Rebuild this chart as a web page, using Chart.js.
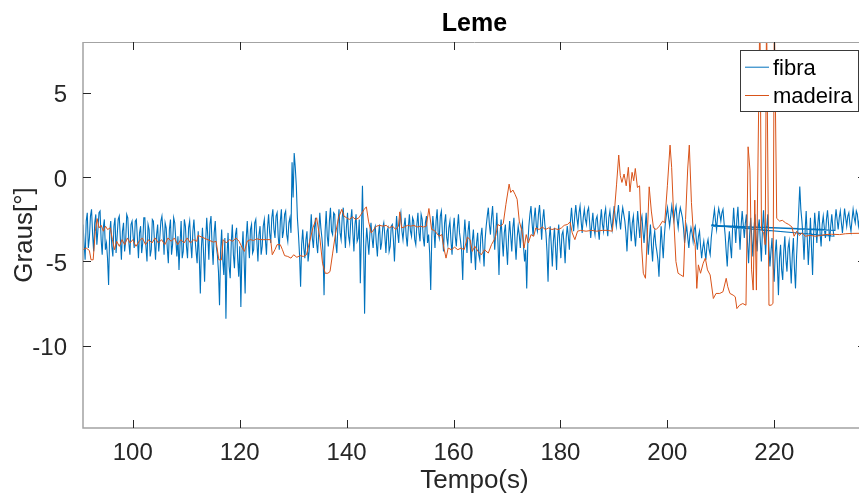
<!DOCTYPE html>
<html><head><meta charset="utf-8">
<script src="https://cdn.jsdelivr.net/npm/chart.js@4.4.1/dist/chart.umd.min.js"></script>
<style>
html,body{margin:0;padding:0;background:#fff;overflow:hidden;width:859px;height:497px}
#wrap{position:absolute;left:0;top:0;width:868px;height:497px}
</style>
</head><body><div id="wrap"><canvas id="c" width="868" height="497"></canvas></div>
<script>
// ---------------- data ----------------
const chartTitle = 'Leme';
const xTitle = 'Tempo(s)';
const yTitle = 'Graus[°]';
const seriesNames = ['fibra', 'madeira'];
const xTickValues = [100, 120, 140, 160, 180, 200, 220];
const yTickValues = [-10, -5, 0, 5];

// fibra: regularly sampled (start time, sample interval)
const fibraStart = 90.7;
const fibraStep = 0.1995;
const fibraValues = [
  -2.8,-3.9,-4.9,-2.6,-2.1,-4.2,-3.6,-2.3,-1.9,-3.4,-4.4,-2.7,-2.2,-4.0,-3.1,-2.1,-2.0,-3.7,-4.6,-3.0,-2.5,-4.3,-3.9,-4.8,-6.4,-3.3,-2.6,-4.1,-4.7,-2.9,-2.4,-4.5,-3.5,-2.5,-2.3,-3.6,-4.9,-3.2,-2.7,-4.4,-3.8,-2.2,-2.4,-3.9,-4.6,-2.8,-2.6,-3.5,-4.2,-2.6,
  -2.5,-3.6,-4.8,-3.3,-2.9,-4.5,-3.9,-2.4,-2.4,-4.1,-5.0,-2.8,-3.1,-4.7,-4.3,-2.5,-2.6,-3.8,-4.9,-3.4,-2.8,-4.4,-3.6,-2.6,-2.3,-3.2,-4.6,-2.7,-3.0,-4.2,-5.1,-3.1,-2.5,-4.6,-4.0,-2.4,-2.7,-3.7,-4.7,-3.5,-5.5,-3.9,-2.6,-4.8,-4.4,-2.5,-2.9,-4.1,-4.8,-3.0,
  -2.6,-3.9,-4.8,-3.2,-2.5,-3.6,-4.4,-5.1,-3.2,-4.7,-6.9,-4.2,-3.0,-4.5,-6.2,-3.8,-2.4,-3.5,-4.9,-2.8,-2.3,-4.0,-5.2,-3.3,-2.6,-4.1,-4.6,-5.6,-7.6,-4.4,-3.1,-4.9,-5.8,-3.6,-8.4,-4.7,-3.3,-5.3,-6.0,-3.9,-2.8,-4.6,-5.4,-3.4,-3.0,-4.8,-5.9,-4.1,-7.7,-4.5,
  -3.2,-4.8,-6.9,-3.7,-2.6,-3.9,-4.8,-3.1,-2.8,-4.5,-4.3,-2.7,-2.5,-3.8,-5.0,-3.4,-2.9,-4.6,-4.1,-2.9,-2.5,-3.7,-4.6,-3.0,-2.2,-3.3,-3.9,-2.4,-1.9,-3.1,-3.6,-2.3,-2.1,-3.5,-4.3,-2.6,-1.9,-3.6,-3.2,-2.2,-2.0,-3.4,-3.8,-2.7,-2.4,-3.3,0.9,-1.2,1.45,0.6,
  -0.5,-2.4,-3.4,-4.6,-6.5,-4.0,-3.1,-4.2,-4.8,-3.7,-3.2,-5.0,-4.4,-3.4,-2.2,-3.6,-4.2,-3.0,-2.4,-3.9,-4.5,-3.3,-2.1,-3.0,-3.6,-4.4,-7.0,-3.2,-2.0,-3.5,-4.1,-2.6,-1.8,-3.2,-3.4,-2.1,-2.2,-3.9,-4.5,-2.8,-1.9,-3.3,-3.7,-2.4,-1.8,-3.1,-4.2,-2.9,-2.1,-3.5,
  -3.9,-2.6,-1.9,-3.3,-4.4,-2.8,-2.2,-3.8,-3.6,-2.5,-6.3,-3.4,-0.5,-3.6,-8.1,-4.2,-3.0,-3.8,-4.6,-3.3,-2.7,-3.6,-4.2,-3.1,-2.9,-3.9,-4.7,-3.4,-2.8,-4.3,-3.9,-3.0,-2.7,-3.5,-4.5,-3.2,-3.0,-4.4,-4.1,-2.9,-2.8,-3.7,-5.0,-3.4,-2.3,-3.3,-3.9,-2.5,-2.1,-3.2,
  -3.7,-2.9,-2.4,-3.5,-4.1,-3.0,-2.2,-3.2,-3.5,-2.4,-2.6,-3.7,-4.0,-2.8,-2.1,-3.3,-3.8,-2.2,-2.5,-3.6,-4.1,-2.7,-2.3,-3.9,-3.4,-4.5,-6.7,-3.5,-2.3,-3.1,-4.2,-2.6,-1.9,-3.3,-3.6,-2.3,-2.0,-3.4,-4.4,-2.7,-2.2,-3.6,-4.0,-3.0,-2.6,-3.8,-4.6,-3.1,-2.4,-3.5,
  -4.1,-3.0,-2.2,-3.3,-3.8,-4.4,-6.1,-3.6,-2.5,-3.5,-4.5,-3.2,-2.6,-4.0,-5.1,-3.8,-3.1,-4.3,-5.5,-3.9,-3.3,-4.6,-4.9,-3.5,-3.0,-4.2,-5.3,-3.7,-2.9,-2.3,-1.8,-2.8,-3.4,-2.4,-1.7,-3.0,-4.3,-3.2,-2.1,-3.8,-5.8,-3.4,-2.5,-3.7,-4.7,-3.3,-2.8,-4.1,-5.2,-3.5,
  -2.6,-3.5,-4.4,-3.0,-2.4,-3.8,-4.9,-3.6,-2.9,-3.4,-4.2,-3.1,-2.7,-4.1,-5.0,-4.3,-6.6,-4.0,-2.9,-2.2,-1.7,-2.7,-3.5,-2.4,-1.8,-2.9,-3.2,-2.2,-1.65,-2.6,-3.7,-2.5,-1.9,-2.8,-3.3,-4.4,-6.2,-3.7,-2.9,-4.0,-5.3,-3.8,-3.0,-4.2,-5.5,-3.6,-2.8,-3.9,-4.8,-3.4,
  -3.2,-4.0,-5.1,-3.6,-2.9,-3.5,-4.3,-2.6,-1.8,-2.7,-3.2,-2.3,-1.65,-2.4,-2.9,-2.1,-1.7,-2.6,-3.3,-2.4,-1.9,-2.5,-2.8,-2.0,-1.8,-2.7,-3.6,-2.8,-2.1,-3.0,-3.4,-2.5,-2.3,-3.1,-3.7,-2.6,-1.9,-2.8,-3.2,-2.2,-1.85,-2.9,-3.5,-2.4,-2.0,-2.7,-3.1,-2.3,-1.7,-2.4,
  -2.9,-2.2,-1.65,-2.5,-3.1,-2.3,-1.8,-2.2,-2.6,-3.3,-4.4,-3.0,-2.0,-2.9,-3.8,-2.7,-2.3,-3.4,-4.1,-3.1,-2.0,-2.8,-3.6,-2.6,-2.3,-3.2,-3.9,-3.0,-2.1,-3.5,-4.6,-3.6,-2.8,-4.1,-5.0,-3.7,-3.2,-4.0,-4.4,-4.9,-5.9,-4.3,-2.9,-3.9,-4.8,-3.5,-2.7,-2.2,-1.8,-2.4,
  -2.9,-2.3,-1.7,-2.2,-2.6,-2.0,-1.7,-2.5,-3.0,-2.2,-1.8,-2.1,-2.4,-3.0,-3.9,-3.3,-2.9,-3.6,-4.2,-3.4,-3.0,-3.3,-3.8,-3.1,-2.9,-3.7,-4.3,-3.5,-3.2,-4.1,-4.8,-4.2,-3.8,-4.4,-4.9,-4.0,-3.7,-4.3,-4.6,-3.6,-3.0,-2.4,-1.9,-2.6,-3.1,-2.3,-1.85,-2.2,-2.6,-2.1,
  -1.9,-2.7,-3.4,-4.4,-5.3,-3.9,-3.2,-4.1,-4.8,-3.0,-1.8,-2.9,-3.9,-2.5,-1.75,-3.1,-4.3,-2.9,-2.0,-2.8,-3.6,-2.7,-2.2,-3.9,-5.1,-3.4,-2.4,-3.6,-4.7,-3.2,-2.2,-3.5,-4.4,-3.0,-2.5,-3.8,-5.0,-3.1,-1.95,-3.3,-4.6,-3.0,-2.2,-4.1,-5.3,-4.4,-3.6,-5.1,-6.2,-4.5,
  -3.7,-5.2,-7.0,-4.8,-4.0,-5.5,-6.1,-4.4,-3.5,-4.9,-5.6,-4.2,-3.8,-5.0,-6.3,-4.6,-3.6,-5.4,-6.6,-4.7,-3.4,-2.0,-0.55,-1.9,-2.6,-3.5,-4.9,-3.2,-2.0,-3.6,-5.2,-3.9,-2.4,-4.2,-5.8,-3.4,-2.1,-3.0,-3.9,-2.7,-2.0,-3.3,-4.1,-2.8,-2.3,-3.0,-3.6,-2.5,-1.95,-2.8,
  -3.8,-2.9,-2.2,-3.0,-3.5,-2.6,-1.9,-2.5,-3.1,-2.4,-2.0,-2.7,-3.3,-2.6,-1.85,-2.4,-2.9,-2.3,-2.1,-2.8,-3.2,-2.5,-1.9,-2.4,-2.7,-2.0,-2.2,-2.9,-2.5,-2.1,-2.0,-2.6,-2.6,-2.2,-2.3
];
// fibra: out-of-order samples (time stamps jumping back), inserted after the sample index below
const fibraGlitchAfterIndex = 704;
const fibraGlitchT = [208.2, 225.75, 208.2, 229.45, 208.3, 231.33];
const fibraGlitchV = [-2.85, -3.05, -2.9, -3.1, -2.85, -3.15];

// madeira: irregular samples
const madeiraT = [
  90.7,91.3,91.9,92.2,92.6,93.0,93.35,93.7,94.1,94.5,94.9,95.3,95.8,96.2,96.6,97.0,97.5,98.0,98.5,99.0,99.5,100.0,
  100.6,101.2,101.8,102.4,103.0,103.6,104.2,104.8,105.4,106.0,106.6,107.2,107.8,108.4,109.0,109.6,110.2,110.8,111.4,112.0,112.2,
  115.1,115.6,116.1,116.6,116.9,117.5,118.1,118.7,119.3,119.9,120.5,120.9,121.4,122.0,122.6,123.2,123.8,124.4,125.0,125.8,
  126.1,126.6,127.0,127.6,128.0,128.4,129.0,129.6,130.1,130.7,131.3,131.9,132.5,133.1,133.7,134.4,135.0,135.5,136.0,136.5,136.9,
  137.4,137.9,138.5,139.1,139.5,140.0,140.5,141.1,141.7,142.3,142.7,143.3,143.7,144.1,144.6,145.1,145.6,146.2,146.8,147.4,148.0,
  148.6,149.2,149.7,149.95,150.3,150.8,151.4,152.0,152.6,153.2,153.8,154.4,154.9,155.4,155.9,156.4,156.8,157.3,157.8,158.2,158.6,
  159.0,159.6,160.2,160.8,161.4,162.0,162.6,163.1,163.5,164.0,164.6,165.2,165.8,166.5,167.1,167.8,168.3,168.8,169.3,169.8,170.4,
  170.7,171.1,171.5,171.9,172.3,172.8,173.2,173.6,174.0,174.5,175.0,175.4,176.0,176.6,177.2,177.8,178.4,179.0,179.6,180.2,180.7,
  181.3,181.8,182.2,182.7,183.2,183.8,184.8,185.8,186.8,187.8,188.8,189.7,190.1,190.5,190.9,191.2,191.5,191.9,192.3,192.7,193.0,
  193.4,193.7,194.0,194.4,194.8,195.2,195.5,195.9,196.3,196.6,197.0,197.4,197.9,198.5,199.1,199.5,200.0,200.5,200.8,201.2,201.6,
  202.0,202.5,203.0,203.4,203.8,204.1,204.5,204.9,205.2,205.5,205.8,206.2,206.7,207.1,207.5,208.0,208.6,209.1,209.8,210.4,211.0,
  211.3,211.7,212.3,212.7,213.0,213.5,214.1,214.7,214.9,215.1,215.45,215.75,216.05,216.35,216.65,217.3,217.6,218.0,218.3,218.55,
  219.0,219.4,219.75,220.0,220.45,221.0,221.5,222.1,222.7,223.3,223.7,224.2,224.7,225.2,225.8,226.7,227.7,228.7,229.5,230.7,
  232.2,233.3,234.7,237.1
];
const madeiraV = [
  -4.3,-4.2,-4.35,-4.9,-4.9,-3.2,-2.45,-3.0,-2.85,-3.2,-2.9,-3.1,-3.0,-3.7,-4.3,-3.8,-4.1,-3.7,-4.0,-3.6,-3.9,-3.7,
  -4.1,-3.8,-3.6,-4.0,-3.7,-3.9,-3.6,-3.9,-3.7,-4.0,-3.6,-3.8,-3.6,-4.0,-3.7,-3.9,-3.6,-3.9,-3.7,-3.8,-3.45,
  -3.85,-3.8,-4.9,-4.9,-3.7,-3.9,-3.7,-3.8,-3.6,-3.8,-4.2,-4.4,-3.8,-3.7,-3.75,-3.65,-3.7,-3.7,-3.7,-3.7,
  -4.6,-4.3,-4.0,-4.0,-4.3,-4.65,-4.7,-4.8,-4.6,-4.75,-4.65,-4.7,-4.6,-3.8,-3.0,-2.4,-3.6,-5.1,-5.7,-5.7,-5.6,
  -4.5,-3.4,-2.4,-1.9,-2.3,-2.4,-2.5,-2.35,-2.5,-2.4,-2.2,-1.9,-1.75,-2.6,-3.3,-3.1,-2.9,-2.85,-2.9,-2.85,-3.0,
  -2.9,-3.1,-2.9,-2.05,-3.0,-2.95,-2.85,-2.9,-2.85,-2.95,-2.9,-2.95,-2.9,-1.85,-3.1,-3.15,-3.3,-3.5,-3.4,-4.2,-4.8,
  -4.2,-4.3,-4.15,-4.3,-4.2,-4.3,-3.55,-3.7,-4.4,-4.1,-4.4,-4.6,-4.3,-4.5,-4.0,-3.6,-2.8,-2.9,-2.75,-1.6,-0.4,
  -0.9,-0.75,-1.0,-1.3,-2.6,-3.2,-4.2,-3.4,-3.9,-3.4,-3.5,-3.0,-3.1,-2.95,-3.1,-3.0,-3.1,-3.05,-3.1,-3.0,-2.85,
  -2.8,-2.65,-3.3,-3.7,-3.2,-3.15,-3.2,-3.15,-3.2,-3.15,-3.15,-3.2,-2.0,-0.4,1.33,0.1,-0.3,0.2,-0.5,0.6,-0.86,
  0.3,-0.2,0.53,-0.6,-0.5,-4.2,-5.7,-6.0,-3.0,-0.56,-2.0,-3.0,-3.1,-2.9,-2.6,-2.7,-0.5,1.92,0.6,-2.5,-5.0,
  -5.7,-5.8,-5.9,-2.5,0.5,1.92,-1.5,-3.5,-4.0,-6.6,-5.2,-5.7,-5.1,-4.8,-5.5,-5.8,-7.2,-6.9,-6.9,-6.8,-6.0,
  -6.5,-6.9,-7.0,-7.1,-7.8,-7.6,-7.5,-7.6,-3.0,1.82,0.43,-5.5,-6.7,-1.35,-6.7,10,-3.1,-3.3,-4.0,10,
  -7.6,-7.6,-7.5,10,-2.44,-2.6,-2.55,-2.7,-2.8,-2.95,-3.5,-3.2,-3.45,-3.3,-3.5,-3.45,-3.5,-3.45,-3.4,-3.38,
  -3.4,-3.35,-3.33,-3.32
];

const xMin = 90.7, xMax = 237.15, yMin = -14.9, yMax = 8.05;
const colors = ['#0072BD', '#D95319'];

// ---------------- build ----------------
const fibraPts = [];
fibraValues.forEach((v, i) => {
  fibraPts.push({x: +(fibraStart + fibraStep * i).toFixed(4), y: v});
  if (i === fibraGlitchAfterIndex) {
    fibraGlitchT.forEach((t, j) => fibraPts.push({x: t, y: fibraGlitchV[j]}));
  }
});
const madeiraPts = madeiraT.map((t, i) => ({x: t, y: madeiraV[i]}));

const FONT = "'Liberation Sans', Arial, Helvetica, sans-serif";
const TXT = '#262626';

const framePlugin = {
  id: 'matlabFrame',
  afterDraw(chart) {
    const ctx = chart.ctx, a = chart.chartArea;
    const xs = chart.scales.x, ys = chart.scales.y;
    ctx.save();
    // axes box
    ctx.strokeStyle = '#a3a3a3';
    ctx.lineWidth = 1.5;
    ctx.beginPath();
    ctx.moveTo(a.left, a.top); ctx.lineTo(a.left, a.bottom); ctx.lineTo(a.right, a.bottom);
    ctx.stroke();
    ctx.lineWidth = 1;
    ctx.beginPath();
    ctx.moveTo(a.left, a.top + 0.5); ctx.lineTo(a.right, a.top + 0.5); ctx.lineTo(a.right - 0.5, a.bottom);
    ctx.stroke();
    // inward ticks
    ctx.strokeStyle = TXT;
    ctx.lineWidth = 1;
    ctx.beginPath();
    xTickValues.forEach(v => {
      const p = Math.round(xs.getPixelForValue(v)) + 0.5;
      ctx.moveTo(p, a.bottom); ctx.lineTo(p, a.bottom - 8);
      ctx.moveTo(p, a.top); ctx.lineTo(p, a.top + 8);
    });
    yTickValues.forEach(v => {
      const p = Math.round(ys.getPixelForValue(v)) + 0.5;
      ctx.moveTo(a.left, p); ctx.lineTo(a.left + 8, p);
      ctx.moveTo(a.right, p); ctx.lineTo(a.right - 8, p);
    });
    ctx.stroke();
    // title
    ctx.fillStyle = '#000';
    ctx.font = 'bold 25px ' + FONT;
    ctx.textAlign = 'center';
    ctx.textBaseline = 'alphabetic';
    ctx.fillText(chartTitle, (a.left + a.right) / 2, 31);
    // legend
    const lx = 740, ly = 50, lw = 118, lh = 61;
    ctx.fillStyle = '#fff';
    ctx.fillRect(lx, ly, lw, lh);
    ctx.strokeStyle = '#3a3a3a';
    ctx.lineWidth = 1;
    ctx.strokeRect(lx + 0.5, ly + 0.5, lw, lh);
    const rows = [66.7, 95];
    const bases = [75, 103.3];
    chart.data.datasets.forEach((ds, i) => {
      ctx.strokeStyle = ds.borderColor;
      ctx.lineWidth = 1;
      ctx.beginPath();
      ctx.moveTo(745, rows[i] + 0.5); ctx.lineTo(769, rows[i] + 0.5);
      ctx.stroke();
      ctx.fillStyle = '#000';
      ctx.font = '22px ' + FONT;
      ctx.textAlign = 'left';
      ctx.fillText(ds.label, 773, bases[i]);
    });
    ctx.restore();
  }
};

new Chart(document.getElementById('c'), {
  type: 'scatter',
  data: {
    datasets: [
      {label: seriesNames[0], data: fibraPts, showLine: true, borderColor: colors[0], backgroundColor: colors[0],
       borderWidth: 1.1, pointRadius: 0, tension: 0, order: 1},
      {label: seriesNames[1], data: madeiraPts, showLine: true, borderColor: colors[1], backgroundColor: colors[1],
       borderWidth: 1, pointRadius: 0, tension: 0, order: 0}
    ]
  },
  options: {
    responsive: false,
    devicePixelRatio: 1,
    animation: false,
    events: [],
    layout: {padding: {top: 42, right: 2, left: 0, bottom: 0}},
    plugins: {legend: {display: false}, tooltip: {enabled: false}, title: {display: false}},
    scales: {
      x: {
        type: 'linear', position: 'bottom', min: xMin, max: xMax,
        grid: {display: false}, border: {display: false},
        afterBuildTicks: s => { s.ticks = xTickValues.map(v => ({value: v})); },
        afterFit: s => { s.height = 69; },
        ticks: {font: {family: FONT, size: 24}, color: TXT, padding: 3, maxRotation: 0, autoSkip: false,
                callback: v => String(v)},
        title: {display: true, text: xTitle, font: {family: FONT, size: 26}, color: TXT, padding: {top: 0, bottom: 1}}
      },
      y: {
        type: 'linear', position: 'left', min: yMin, max: yMax,
        grid: {display: false}, border: {display: false},
        afterBuildTicks: s => { s.ticks = yTickValues.map(v => ({value: v})); },
        afterFit: s => { s.width = 83; },
        ticks: {font: {family: FONT, size: 24}, color: TXT, padding: 8, labelOffset: 2.5, autoSkip: false,
                callback: v => String(v)},
        title: {display: true, text: yTitle, font: {family: FONT, size: 26}, color: TXT, padding: {top: 9, bottom: 0}}
      }
    }
  },
  plugins: [framePlugin]
});
</script></body></html>
